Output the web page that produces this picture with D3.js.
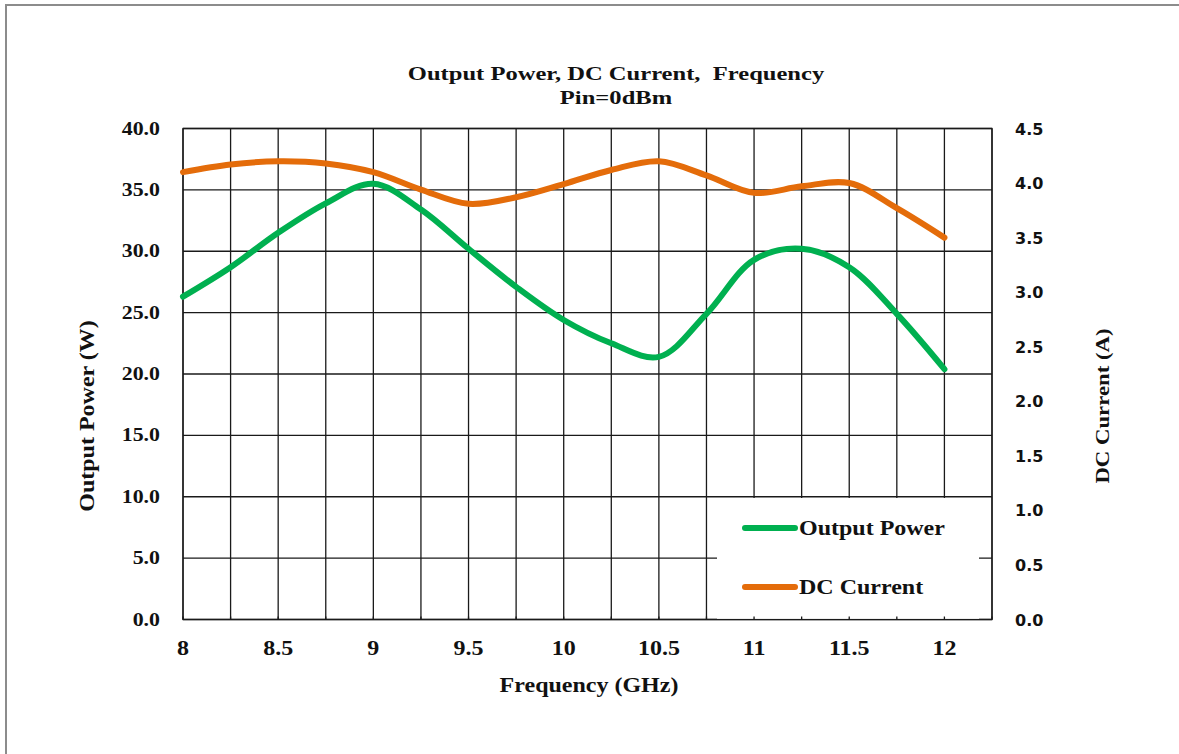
<!DOCTYPE html>
<html>
<head>
<meta charset="utf-8">
<script src="https://cdn.jsdelivr.net/npm/d3@7"></script>
<style>
  html, body { margin: 0; padding: 0; background: #fff; }
  svg { display: block; }
  .serif { font-family: "Liberation Serif", "Times New Roman", serif; font-weight: bold; fill: #111; }
  .sans { font-family: "DejaVu Sans", Tahoma, sans-serif; font-weight: bold; fill: #111; }
</style>
</head>
<body>
<svg id="chart"></svg>
<script>
// 数据（每 0.25 GHz 读取一次）
const freq = [8, 8.25, 8.5, 8.75, 9, 9.25, 9.5, 9.75, 10, 10.25, 10.5, 10.75, 11, 11.25, 11.5, 11.75, 12];
const outputPower = [26.3, 28.7, 31.5, 33.9, 35.5, 33.4, 30.2, 27.1, 24.4, 22.5, 21.4, 24.9, 29.3, 30.2, 28.7, 24.9, 20.4];
const dcCurrent = [4.10, 4.17, 4.20, 4.18, 4.10, 3.94, 3.81, 3.87, 3.99, 4.12, 4.20, 4.07, 3.91, 3.97, 4.00, 3.77, 3.50];

const xTicks = [8, 8.5, 9, 9.5, 10, 10.5, 11, 11.5, 12];
const xGrid = d3.range(8, 12.26, 0.25);
const leftTicks = [0, 5, 10, 15, 20, 25, 30, 35, 40];
const rightTicks = [0, 0.5, 1, 1.5, 2, 2.5, 3, 3.5, 4, 4.5];

const titleLines = ["Output Power, DC Current,  Frequency", "Pin=0dBm"];
const seriesNames = ["Output Power", "DC Current"];

const width = 1179, height = 754;
const plot = { left: 183, right: 992, top: 128.5, bottom: 619.5 };
const green = "#00B050", orange = "#E46C0A";
const sx = 1.2; // 原图的 Times 字体横向偏宽

const svg = d3.select("#chart").attr("width", width).attr("height", height);

// 外框
svg.append("path")
    .attr("d", `M6,${height + 5} V5 H${width + 5}`)
    .attr("fill", "none")
    .attr("stroke", "#8c8c8c")
    .attr("stroke-width", 2);

const x = d3.scaleLinear().domain([8, 12.25]).range([plot.left, plot.right]);
const yL = d3.scaleLinear().domain([0, 40]).range([plot.bottom, plot.top]);
const yR = d3.scaleLinear().domain([0, 4.5]).range([plot.bottom, plot.top]);

// 网格
const grid = svg.append("g").attr("stroke", "#1a1a1a").attr("stroke-width", 1.3);
grid.selectAll(".vg").data(xGrid).join("line")
    .attr("x1", d => x(d)).attr("x2", d => x(d))
    .attr("y1", plot.top).attr("y2", plot.bottom);
grid.selectAll(".hg").data(leftTicks).join("line")
    .attr("x1", plot.left).attr("x2", plot.right)
    .attr("y1", d => yL(d)).attr("y2", d => yL(d));
grid.append("rect")
    .attr("x", plot.left).attr("y", plot.top)
    .attr("width", plot.right - plot.left).attr("height", plot.bottom - plot.top)
    .attr("fill", "none");

// 曲线
const lineL = d3.line().x((d, i) => x(freq[i])).y(d => yL(d)).curve(d3.curveCatmullRom.alpha(0.5));
const lineR = d3.line().x((d, i) => x(freq[i])).y(d => yR(d)).curve(d3.curveCatmullRom.alpha(0.5));

svg.append("path").datum(dcCurrent)
    .attr("d", lineR)
    .attr("fill", "none").attr("stroke", orange)
    .attr("stroke-width", 6).attr("stroke-linecap", "round");
svg.append("path").datum(outputPower)
    .attr("d", lineL)
    .attr("fill", "none").attr("stroke", green)
    .attr("stroke-width", 6).attr("stroke-linecap", "round");

// 图例（白底遮住网格）
svg.append("rect")
    .attr("x", 717).attr("y", 498)
    .attr("width", 262).attr("height", plot.bottom - 498 - 0.7)
    .attr("fill", "#fff");
// 底部内刻度
svg.append("g").attr("stroke", "#1a1a1a").attr("stroke-width", 1.3)
    .selectAll("line").data(xGrid).join("line")
    .attr("x1", d => x(d)).attr("x2", d => x(d))
    .attr("y1", plot.bottom).attr("y2", plot.bottom - 3);

const legend = svg.append("g");
[green, orange].forEach((c, i) => {
    const ly = 528 + i * 59;
    legend.append("line")
        .attr("x1", 745).attr("x2", 795)
        .attr("y1", ly).attr("y2", ly)
        .attr("stroke", c).attr("stroke-width", 6).attr("stroke-linecap", "round");
    legend.append("text")
        .attr("class", "serif")
        .attr("transform", `translate(799,${ly + 7}) scale(${sx},1)`)
        .style("font-size", "20px")
        .text(seriesNames[i]);
});

// 坐标轴文字
svg.append("g").selectAll("text").data(leftTicks).join("text")
    .attr("class", "serif")
    .attr("transform", d => `translate(160,${yL(d) + 6}) scale(1.15,1)`)
    .attr("text-anchor", "end")
    .style("font-size", "19px")
    .text(d => d.toFixed(1));

svg.append("g").selectAll("text").data(rightTicks).join("text")
    .attr("class", "sans")
    .attr("x", 1015).attr("y", d => yR(d) + 6)
    .style("font-size", "16px")
    .text(d => d.toFixed(1));

svg.append("g").selectAll("text").data(xTicks).join("text")
    .attr("class", "serif")
    .attr("transform", d => `translate(${x(d)},655) scale(${sx},1)`)
    .attr("text-anchor", "middle")
    .style("font-size", "20px")
    .text(d => d);

svg.append("text")
    .attr("class", "serif")
    .attr("transform", `translate(589,692) scale(${sx},1)`)
    .attr("text-anchor", "middle")
    .style("font-size", "20px")
    .text("Frequency (GHz)");

svg.append("text")
    .attr("class", "serif")
    .attr("transform", `translate(94,416) rotate(-90) scale(${sx},1)`)
    .attr("text-anchor", "middle")
    .style("font-size", "20px")
    .text("Output Power (W)");

svg.append("text")
    .attr("class", "serif")
    .attr("transform", `translate(1109,406) rotate(-90) scale(${sx},1)`)
    .attr("text-anchor", "middle")
    .style("font-size", "19px")
    .text("DC Current (A)");

// 标题
svg.append("g").selectAll("text").data(titleLines).join("text")
    .attr("class", "serif")
    .attr("transform", (d, i) => `translate(616,${80 + i * 24}) scale(1.26,1)`)
    .attr("text-anchor", "middle")
    .style("font-size", "19.5px")
    .attr("xml:space", "preserve")
    .style("white-space", "pre")
    .text(d => d);
</script>
</body>
</html>
